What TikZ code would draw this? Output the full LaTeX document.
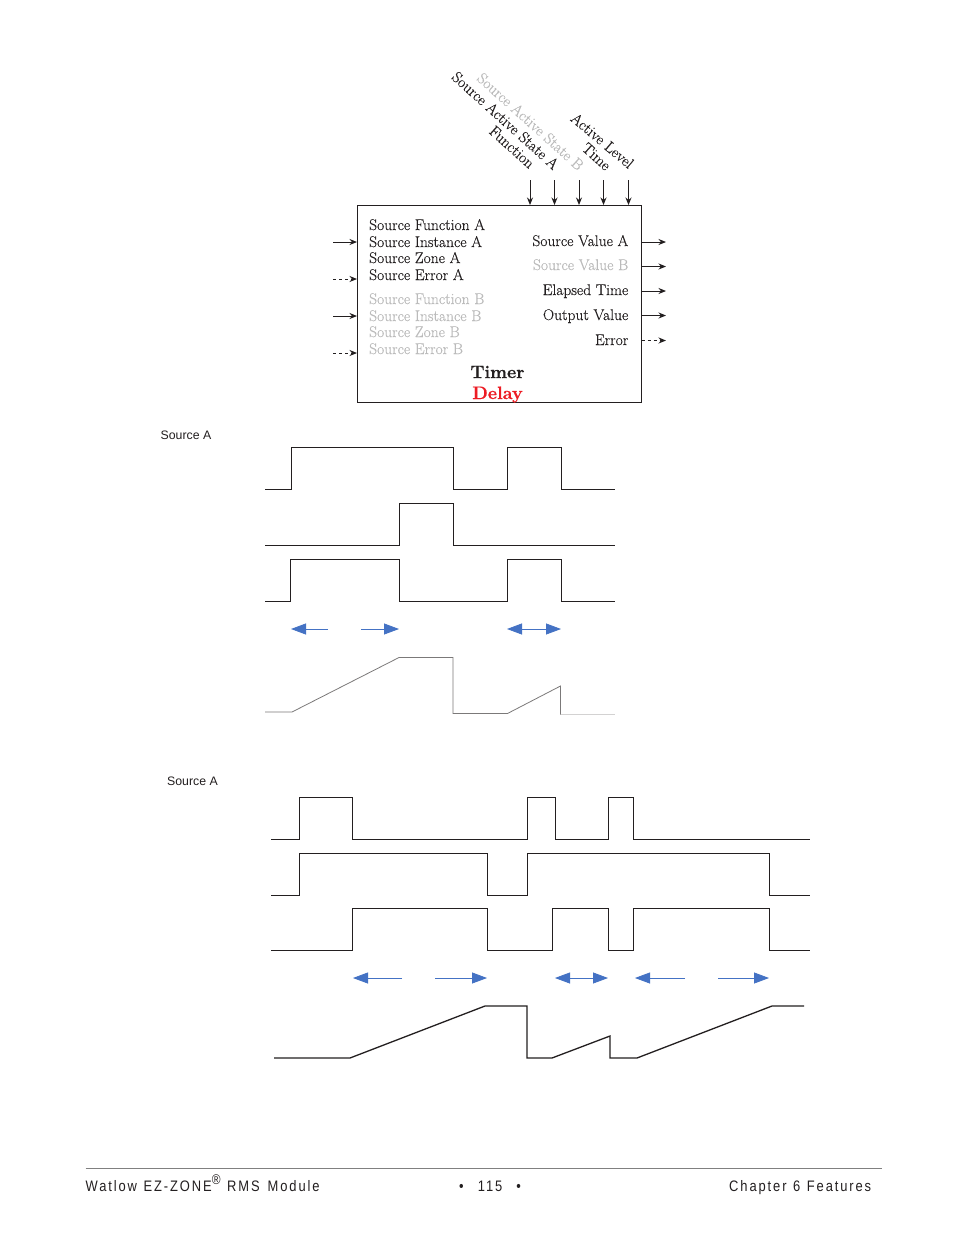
\documentclass[tikz,border=0pt]{standalone}
\usepackage{fontspec}
\usepackage{tikz}
\usetikzlibrary{arrows.meta,arrows}
\newfontfamily\namefont[FakeBold=0.22]{Latin Modern Roman}
\newfontfamily\titlefont[BoldFeatures={FakeBold=0.6}]{Latin Modern Roman}
\newfontfamily\labelfont{Liberation Sans}
\newfontfamily\footfont[LetterSpace=12.5,FakeStretch=0.85,WordSpace=1.2]{Liberation Sans}
\definecolor{ink}{RGB}{35,31,32}
\definecolor{faded}{RGB}{187,187,187}
\definecolor{delayred}{RGB}{237,28,36}
\definecolor{spanblue}{RGB}{68,114,196}
\tikzset{
  sig/.style={-{Stealth[length=7.5pt,width=6pt]}, ink, line width=0.9pt},
  wave/.style={ink, line width=1pt},
  span/.style={spanblue, line width=0.8pt},
  spantip/.style={-{Triangle[length=15pt,width=11pt]}},
  pname/.style={font=\namefont\fontsize{15.5}{15.5}\selectfont, inner sep=0pt, text=ink},
  titlename/.style={font=\titlefont\bfseries\fontsize{18}{18}\selectfont, inner sep=0pt, anchor=base},
  tagname/.style={font=\labelfont\fontsize{12.3}{12.3}\selectfont, inner sep=0pt, text=ink, anchor=west},
  footname/.style={font=\footfont\fontsize{15.2}{15.2}\selectfont, inner sep=0pt, text=ink, anchor=base west}
}
\begin{document}
\begin{tikzpicture}[x=1pt,y=-1pt]
\useasboundingbox (0,0) rectangle (954,1235);
\fill[white] (0,0) rectangle (954,1235);

% function block
\node[draw=ink, line width=1pt, minimum width=283.5pt, minimum height=197pt, inner sep=0pt] (block) at (499.25,304) {};
\foreach \y/\ytext in {230/Source Function A,247/Source Instance A,263/Source Zone A,280/Source Error A}
    \node[pname, anchor=base west] at (369,\y) {\ytext};
\foreach \y/\ytext in {304/Source Function B,321/Source Instance B,337/Source Zone B,354/Source Error B}
    \node[pname, anchor=base west, text=faded] at (369,\y) {\ytext};
\foreach \y/\ytext in {246/Source Value A,295/Elapsed Time,320/Output Value,345/Error}
    \node[pname, anchor=base east] at (628.5,\y) {\ytext};
\node[pname, anchor=base east, text=faded] (valueb) at (628.5,270) {Source Value B};
\node[titlename, text=ink] (timer) at (497.5,378) {Timer};
\node[titlename, text=delayred] (delay) at (497.5,399) {Delay};

% slanted names over the block
\node[pname, rotate=-42] (activea) at (505.5,120.5) {Source Active State A};
\node[pname, rotate=-42, text=faded] (activeb) at (530.5,121.5) {Source Active State B};
\node[pname, rotate=-42] (func) at (512,147) {Function};
\node[pname, rotate=-40] (level) at (602.5,140.5) {Active Level};
\node[pname, rotate=-42] (time) at (596.5,156.5) {Time};

% inputs and outputs
\foreach \x [count=\i] in {530,554.5,579,603.5,628.5} {
    \coordinate (top\i) at (\x,180);
    \draw[sig] (top\i) -- (top\i |- block.north);
}
\foreach \y/\ystyle [count=\i] in {242/solid,279/dashed,316/solid,353/dashed} {
    \coordinate (left\i) at (333,\y);
    \draw[sig, \ystyle] (left\i) -- (left\i -| block.west);
}
\foreach \y/\ystyle [count=\i] in {242/solid,266.5/solid,291/solid,315.5/solid,340.5/dashed} {
    \coordinate (right\i) at (666,\y);
    \draw[sig, \ystyle] (block.east |- right\i) -- (right\i);
}

% first timing chart
\node[tagname] (sourcea) at (160.5,435) {Source A};
\draw[wave] (265,489) -- (291.5,489) -- (291.5,447.5) -- (453.5,447.5) -- (453.5,489) -- (507.5,489) -- (507.5,447.5) -- (561.5,447.5) -- (561.5,489) -- (615,489);
\draw[wave] (265,545.5) -- (399.5,545.5) -- (399.5,503.5) -- (453.5,503.5) -- (453.5,545.5) -- (615,545.5);
\draw[wave] (265,601) -- (290.5,601) -- (290.5,559.5) -- (399.5,559.5) -- (399.5,601) -- (507.5,601) -- (507.5,559.5) -- (561.5,559.5) -- (561.5,601) -- (615,601);
\foreach \xa/\xb in {328/291,361/399}
    \draw[span, spantip] (\xa,629) -- (\xb,629);
\draw[span, spantip] (534,629) -- (507,629);
\draw[span, spantip] (534,629) -- (561,629);
\draw[ink!60, line width=0.8pt] (265,712) -- (292,712) -- (399,657.5) -- (453,657.5) -- (453,713.5) -- (507.5,713.5) -- (560.5,686) -- (560.5,714.5);
\draw[ink!20, line width=1pt] (560.5,714.5) -- (615,714.5);

% second timing chart
\node[tagname] (sourceb) at (167,781) {Source A};
\draw[wave] (271,839) -- (299.5,839) -- (299.5,797.5) -- (352.5,797.5) -- (352.5,839) -- (527.5,839) -- (527.5,797.5) -- (555.5,797.5) -- (555.5,839) -- (608.5,839) -- (608.5,797.5) -- (633.5,797.5) -- (633.5,839) -- (810,839);
\draw[wave] (271,895) -- (299.5,895) -- (299.5,853.5) -- (487.5,853.5) -- (487.5,895) -- (527.5,895) -- (527.5,853.5) -- (769.5,853.5) -- (769.5,895) -- (810,895);
\draw[wave] (271,950) -- (352.5,950) -- (352.5,908.5) -- (487.5,908.5) -- (487.5,950) -- (552.5,950) -- (552.5,908.5) -- (608.5,908.5) -- (608.5,950) -- (633.5,950) -- (633.5,908.5) -- (769.5,908.5) -- (769.5,950) -- (810,950);
\foreach \xa/\xb in {402/353,435/487,685/635,718/769}
    \draw[span, spantip] (\xa,978) -- (\xb,978);
\draw[span, spantip] (581,978) -- (555,978);
\draw[span, spantip] (581,978) -- (608,978);
\draw[wave, line width=1.3pt] (274,1058) -- (350,1058) -- (485,1006) -- (527,1006) -- (527,1058) -- (552,1058) -- (610,1036) -- (610,1058) -- (637,1058) -- (772,1006) -- (804,1006);

% page foot
\draw[gray, line width=0.8pt] (85.5,1168) -- (882,1168);
\node[footname] (footleft) at (85.5,1191) {Watlow EZ-ZONE\raisebox{0.42em}{\fontsize{14}{14}\selectfont\textregistered}\ RMS\hspace{1.5pt} Module};
\node[footname] (footmid) at (459,1191) {•\ \ \hspace{1pt}115\ \hspace{1pt}\ •};
\node[footname] (footright) at (729,1191) {Chapter 6 Features};
\end{tikzpicture}
\end{document}
